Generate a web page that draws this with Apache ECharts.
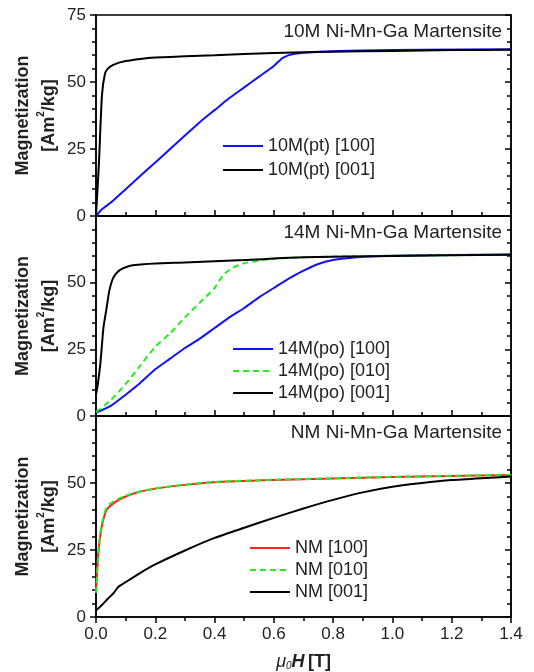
<!DOCTYPE html>
<html>
<head>
<meta charset="utf-8">
<script src="https://cdn.jsdelivr.net/npm/echarts@6/dist/echarts.min.js"></script>
<style>
  html, body { margin: 0; padding: 0; background: #fff; }
  #chart { width: 534px; height: 672px; }
</style>
</head>
<body>
<div id="chart"></div>
<script>
// panel titles
const panelTitles = ['10M Ni-Mn-Ga Martensite', '14M Ni-Mn-Ga Martensite', 'NM Ni-Mn-Ga Martensite']

// field [T], magnetization [Am2/kg] pairs
const m10pt100 = [[0, 0], [0.02, 2.5], [0.05, 5], [0.1, 10], [0.15, 15], [0.2, 20], [0.25, 25], [0.3, 30], [0.35, 35], [0.4, 39.5], [0.45, 44], [0.5, 48], [0.55, 52], [0.6, 56], [0.63, 59], [0.67, 60.5], [0.75, 61.3], [0.9, 61.8], [1.1, 62], [1.4, 62.2]]
const m10pt001 = [[0, 0], [0.01, 20], [0.02, 45], [0.03, 53], [0.04, 55], [0.06, 56.5], [0.1, 57.8], [0.15, 58.6], [0.2, 59.1], [0.3, 59.6], [0.4, 60], [0.6, 60.8], [0.8, 61.3], [1.0, 61.6], [1.2, 61.9], [1.4, 62]]

const m14po100 = [[0, 1.3], [0.05, 3.8], [0.1, 8], [0.15, 12.5], [0.2, 17.5], [0.25, 21.5], [0.3, 25.5], [0.35, 29], [0.4, 33], [0.45, 37], [0.5, 40.5], [0.55, 44.5], [0.6, 48], [0.65, 51.5], [0.7, 54.5], [0.75, 57], [0.8, 58.5], [0.9, 59.7], [1.0, 60.1], [1.2, 60.4], [1.4, 60.6]]
const m14po010 = [[0, 1.5], [0.05, 6], [0.1, 12], [0.15, 19], [0.2, 26], [0.25, 31], [0.3, 37], [0.35, 42.5], [0.4, 48], [0.43, 53], [0.46, 55.5], [0.5, 57.3], [0.55, 58.3], [0.6, 59], [0.7, 59.5], [0.8, 59.8], [1.0, 60.1], [1.2, 60.3], [1.4, 60.5]]
const m14po001 = [[0, 8], [0.005, 11], [0.015, 20], [0.025, 33], [0.035, 40], [0.045, 47], [0.055, 51], [0.065, 53], [0.08, 54.7], [0.1, 55.8], [0.13, 56.6], [0.2, 57.2], [0.3, 57.6], [0.5, 58.5], [0.7, 59.5], [1.0, 60], [1.4, 60.5]]

const mNM100 = [[0, 9.5], [0.008, 24], [0.02, 34], [0.036, 40], [0.06, 42.5], [0.09, 44.5], [0.13, 46.2], [0.2, 47.9], [0.3, 49.3], [0.4, 50.3], [0.6, 51.1], [0.8, 51.7], [1.0, 52.2], [1.2, 52.6], [1.4, 53]]
const mNM010 = [[0, 9], [0.01, 27], [0.02, 35], [0.036, 41], [0.06, 43.2], [0.09, 44.8], [0.13, 46.4], [0.2, 48], [0.3, 49.4], [0.4, 50.4], [0.6, 51.2], [0.8, 51.8], [1.0, 52.3], [1.2, 52.7], [1.4, 53.1]]
const mNM001 = [[0, 2.5], [0.02, 4.5], [0.04, 6.8], [0.06, 9], [0.075, 11.2], [0.1, 13], [0.15, 16.5], [0.2, 19.6], [0.3, 24.8], [0.4, 29.5], [0.5, 33.3], [0.6, 37], [0.7, 40.5], [0.8, 43.7], [0.9, 46.5], [1.0, 48.6], [1.1, 50], [1.2, 51.1], [1.3, 51.8], [1.4, 52.4]]

const font = 'Liberation Sans'
const grids = [
  { top: 15, height: 201 },
  { top: 216, height: 200 },
  { top: 416, height: 201 }
]

const chart = echarts.init(document.getElementById('chart'))

function xAxisFor(i) {
  const last = i === 2
  return {
    type: 'value',
    gridIndex: i,
    min: 0,
    max: 1.4,
    interval: 0.2,
    axisLine: { lineStyle: { color: '#000', width: 1.5 } },
    axisTick: { inside: !last, length: 6, lineStyle: { color: '#000', width: 1.5 } },
    minorTick: { show: true, splitNumber: 2, length: 4, lineStyle: { color: '#000', width: 1.5 } },
    splitLine: { show: false },
    axisLabel: {
      show: last,
      margin: 9,
      color: '#222',
      fontFamily: font,
      fontSize: 17,
      formatter: v => v.toFixed(1)
    },
    name: last ? '{mu|μ}{sub|0}{h|H} {t|[T]}' : '',
    nameLocation: 'middle',
    nameGap: 36,
    nameTextStyle: {
      rich: {
        mu: { fontFamily: font, fontStyle: 'italic', fontSize: 18, color: '#222' },
        sub: { fontFamily: font, fontStyle: 'italic', fontSize: 10, color: '#222', verticalAlign: 'bottom', padding: [7, 0, 0, 0] },
        h: { fontFamily: font, fontStyle: 'italic', fontWeight: 'bold', fontSize: 18, color: '#222' },
        t: { fontFamily: font, fontWeight: 'bold', fontSize: 18, color: '#222' }
      }
    }
  }
}

function yAxisFor(i) {
  return {
    type: 'value',
    gridIndex: i,
    min: 0,
    max: 75,
    interval: 25,
    axisLine: { show: true, lineStyle: { color: '#000', width: 1.5 } },
    axisTick: { inside: false, length: 6, lineStyle: { color: '#000', width: 1.5 } },
    minorTick: { show: true, splitNumber: 5, length: 4, lineStyle: { color: '#000', width: 1.5 } },
    splitLine: { show: false },
    axisLabel: {
      margin: 10,
      color: '#222',
      fontFamily: font,
      fontSize: 17,
      formatter: v => (i > 0 && v === 75 ? '' : String(v))
    },
    name: '{b|Magnetization}\n{b|[Am}{sup|2}{b|/kg]}',
    nameLocation: 'middle',
    nameRotate: 90,
    nameGap: 34,
    nameMoveOverlap: false,
    nameTextStyle: {
      lineHeight: 26,
      rich: {
        b: { fontFamily: font, fontWeight: 'bold', fontSize: 18, color: '#222', lineHeight: 26 },
        sup: { fontFamily: font, fontWeight: 'bold', fontSize: 10, color: '#222', verticalAlign: 'top', padding: [0, 0, 8, 0], lineHeight: 26 }
      }
    }
  }
}

function rightAxisFor(i) {
  return {
    type: 'value',
    gridIndex: i,
    position: 'right',
    min: 0,
    max: 75,
    interval: 25,
    axisLine: { show: true, lineStyle: { color: '#000', width: 1.5 } },
    axisTick: { inside: true, length: 6, lineStyle: { color: '#000', width: 1.5 } },
    minorTick: { show: true, splitNumber: 5, length: 4, lineStyle: { color: '#000', width: 1.5 } },
    splitLine: { show: false },
    axisLabel: { show: false }
  }
}

function line(name, data, panel, color, dashed) {
  return {
    name: name,
    type: 'line',
    xAxisIndex: panel,
    yAxisIndex: panel,
    data: data,
    symbol: 'none',
    smooth: 0.2,
    lineStyle: { color: color, width: 2, type: dashed ? [6, 4] : 'solid' },
    itemStyle: { color: color },
    z: 3
  }
}

const legendText = { fontFamily: font, fontSize: 18, color: '#222' }

const option = {
  backgroundColor: '#fff',
  animation: false,
  grid: grids.map(g => ({
    left: 96,
    right: 23,
    top: g.top,
    height: g.height,
    outerBoundsMode: 'none',
    show: true,
    borderColor: '#000',
    borderWidth: 1.5
  })),
  title: panelTitles.map((t, i) => ({
    text: t,
    right: 32,
    top: grids[i].top + 7,
    padding: 0,
    textStyle: { fontFamily: font, fontWeight: 'normal', fontSize: 19, color: '#222' }
  })),
  legend: [
    { data: ['10M(pt) [100]', '10M(pt) [001]'], left: 222, top: 137, itemGap: 6 },
    { data: ['14M(po) [100]', '14M(po) [010]', '14M(po) [001]'], left: 232, top: 340, itemGap: 4 },
    { data: ['NM [100]', 'NM [010]', 'NM [001]'], left: 249, top: 539, itemGap: 4 }
  ].map(l => Object.assign(l, {
    orient: 'vertical',
    itemWidth: 40,
    itemHeight: 14,
    padding: 0,
    itemStyle: { opacity: 0 },
    textStyle: legendText
  })),
  xAxis: [0, 1, 2].map(xAxisFor),
  yAxis: [0, 1, 2].map(yAxisFor).concat([0, 1, 2].map(rightAxisFor)),
  series: [
    line('10M(pt) [100]', m10pt100, 0, '#1010ff'),
    line('10M(pt) [001]', m10pt001, 0, '#000'),
    line('14M(po) [100]', m14po100, 1, '#1010ff'),
    line('14M(po) [010]', m14po010, 1, '#22ee22', true),
    line('14M(po) [001]', m14po001, 1, '#000'),
    line('NM [100]', mNM100, 2, '#ff2020'),
    line('NM [010]', mNM010, 2, '#22ee22', true),
    line('NM [001]', mNM001, 2, '#000')
  ]
}

chart.setOption(option)
window.onresize = function() {
  chart.resize()
}
</script>
</body>
</html>
